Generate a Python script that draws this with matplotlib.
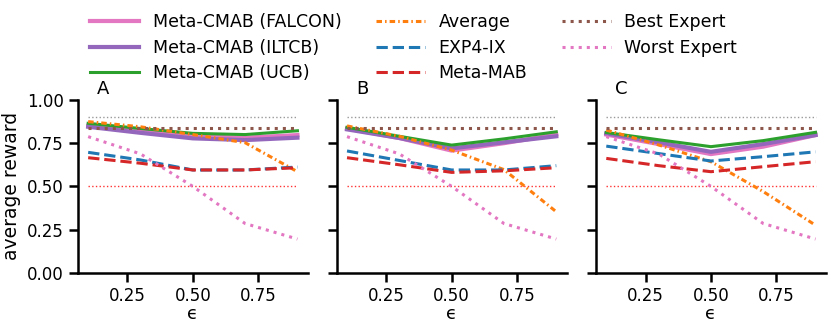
import numpy as np
import matplotlib
matplotlib.use("Agg")
import matplotlib.pyplot as plt

eps = [0.1, 0.3, 0.5, 0.7, 0.9]
panels = ["A", "B", "C"]

# rewards per panel
falcon = [[0.85, 0.825, 0.79, 0.782, 0.797],
          [0.835, 0.78, 0.707, 0.75, 0.80],
          [0.80, 0.745, 0.687, 0.73, 0.797]]
iltcb = [[0.845, 0.81, 0.778, 0.768, 0.782],
         [0.83, 0.78, 0.72, 0.755, 0.79],
         [0.807, 0.755, 0.70, 0.745, 0.797]]
ucb = [[0.865, 0.835, 0.807, 0.80, 0.822],
       [0.842, 0.79, 0.739, 0.775, 0.816],
       [0.812, 0.77, 0.73, 0.765, 0.813]]
average = [[0.875, 0.845, 0.80, 0.753, 0.585],
           [0.85, 0.79, 0.71, 0.597, 0.353],
           [0.826, 0.74, 0.643, 0.47, 0.275]]
exp4ix = [[0.697, 0.653, 0.595, 0.595, 0.612],
          [0.705, 0.65, 0.595, 0.595, 0.62],
          [0.733, 0.69, 0.647, 0.672, 0.70]]
metamab = [[0.666, 0.634, 0.595, 0.595, 0.608],
           [0.666, 0.625, 0.581, 0.59, 0.608],
           [0.662, 0.62, 0.585, 0.614, 0.643]]
best = [0.84, 0.84, 0.84, 0.84, 0.84]
worst = [0.788, 0.688, 0.50, 0.285, 0.195]
oracle = [0.9, 0.9, 0.9, 0.9, 0.9]
chance = [0.5, 0.5, 0.5, 0.5, 0.5]

plt.rcParams["font.family"] = "DejaVu Sans"
plt.rcParams["font.size"] = 12

fig = plt.figure(figsize=(8.31, 3.29), dpi=100)
lefts = [0.0935, 0.405, 0.717]
axes = [fig.add_axes([l, 0.171, 0.277, 0.525]) for l in lefts]

for i, ax in enumerate(axes):
    ax.plot(eps, oracle, color="gray", ls=":", lw=1, alpha=0.8)
    ax.plot(eps, chance, color="red", ls=":", lw=1, alpha=0.8)
    ax.plot(eps, falcon[i], color="#e377c2", lw=3, label="Meta-CMAB (FALCON)")
    ax.plot(eps, iltcb[i], color="#9467bd", lw=3, label="Meta-CMAB (ILTCB)")
    ax.plot(eps, ucb[i], color="#2ca02c", lw=2.2, label="Meta-CMAB (UCB)")
    ax.plot(eps, average[i], color="#ff7f0e", lw=2.2, ls=(0, (1.8, 1, 0.5, 1)), label="Average")
    ax.plot(eps, exp4ix[i], color="#1f77b4", lw=2.2, ls="--", label="EXP4-IX")
    ax.plot(eps, metamab[i], color="#d62728", lw=2.2, ls="--", label="Meta-MAB")
    ax.plot(eps, best, color="#8c564b", lw=2.2, ls=":", label="Best Expert")
    ax.plot(eps, worst, color="#e377c2", lw=2.2, ls=":", label="Worst Expert")

    ax.set_ylim(0, 1.0)
    ax.set_xticks([0.25, 0.5, 0.75])
    ax.set_yticks([0, 0.25, 0.5, 0.75, 1.0])
    ax.spines["top"].set_visible(False)
    ax.spines["right"].set_visible(False)
    ax.spines["left"].set_linewidth(1.8)
    ax.spines["bottom"].set_linewidth(1.8)
    ax.tick_params(width=1.8, length=6.5, labelsize=12)
    ax.set_xlabel("ϵ", fontsize=13, labelpad=0)
    ax.text(0.085, 1.01, panels[i], transform=ax.transAxes, fontsize=13, va="bottom")
    if i > 0:
        ax.set_yticklabels([])

axes[0].set_ylabel("average reward", fontsize=13.5)

handles, labels = axes[0].get_legend_handles_labels()
fig.legend(handles, labels, loc="upper left", bbox_to_anchor=(0.1, 0.982), ncol=3,
           frameon=False, fontsize=12.5, handlelength=2.8, handletextpad=0.8,
           columnspacing=2.0, labelspacing=0.45, borderaxespad=0)

fig.savefig("out.png", dpi=100)
